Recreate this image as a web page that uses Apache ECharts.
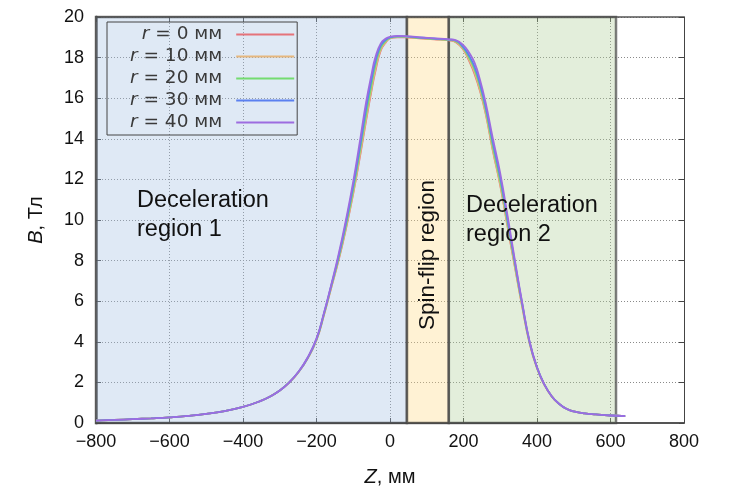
<!DOCTYPE html>
<html lang="ru">
<head>
    <meta charset="UTF-8">
    <title>B(Z)</title>
    <script src="https://cdn.jsdelivr.net/npm/echarts@6/dist/echarts.min.js"></script>
</head>
<body style="margin:0;background:#fff;">
<div id="chart" style="width:731px; height:492px;"></div>
<script type="text/javascript">
// Z, мм
var zPos = [-800,-750,-700,-650,-600,-550,-500,-450,-400,-350,-325,-300,-275,-250,-225,-200,-180,-160,-140,-120,-100,-80,-65,-50,-40,-25,-10,0,
    20,40,80,120,160,180,200,215,230,245,260,280,300,320,340,360,380,400,420,440,460,480,500,530,560,600,640];

// B, Тл для каждого радиуса
var bR0  = [0.12,0.15,0.19,0.23,0.28,0.35,0.45,0.59,0.79,1.1,1.32,1.6,1.98,2.48,3.15,4.08,5.3,6.65,8.0,9.55,11.3,13.3,14.9,16.4,17.3,18.35,18.78,18.94,
    19.0,19.0,18.95,18.9,18.85,18.75,18.38,17.85,17.2,16.35,15.25,13.4,11.7,9.65,7.65,5.7,3.9,2.7,1.88,1.31,0.94,0.7,0.57,0.47,0.42,0.37,0.34];
var bR10 = [0.12,0.15,0.19,0.23,0.28,0.35,0.45,0.59,0.79,1.1,1.32,1.6,1.98,2.48,3.16,4.1,5.32,6.68,8.05,9.6,11.35,13.4,15.0,16.5,17.4,18.4,18.8,18.95,
    19.01,19.01,18.96,18.91,18.86,18.77,18.4,17.9,17.28,16.4,15.3,13.45,11.75,9.7,7.7,5.74,3.93,2.71,1.89,1.31,0.94,0.7,0.57,0.47,0.42,0.37,0.34];
var bR20 = [0.12,0.15,0.19,0.23,0.28,0.35,0.45,0.59,0.79,1.1,1.32,1.6,1.99,2.49,3.17,4.12,5.35,6.72,8.1,9.7,11.5,13.6,15.2,16.7,17.6,18.5,18.85,18.97,
    19.03,19.03,18.97,18.92,18.87,18.8,18.45,18.0,17.42,16.55,15.45,13.6,11.9,9.85,7.8,5.8,3.96,2.73,1.9,1.32,0.95,0.7,0.57,0.47,0.42,0.37,0.34];
var bR30 = [0.12,0.15,0.19,0.23,0.28,0.35,0.45,0.59,0.79,1.1,1.32,1.6,1.99,2.5,3.18,4.14,5.38,6.76,8.2,9.85,11.7,13.8,15.5,16.95,17.8,18.6,18.9,19.0,
    19.05,19.05,18.99,18.94,18.89,18.83,18.5,18.1,17.55,16.7,15.6,13.8,12.1,10.0,7.9,5.85,3.98,2.74,1.9,1.32,0.95,0.7,0.57,0.47,0.42,0.37,0.34];
var bR40 = [0.12,0.15,0.19,0.23,0.28,0.35,0.45,0.59,0.79,1.1,1.32,1.6,1.99,2.5,3.2,4.17,5.4,6.8,8.3,10.0,11.9,14.1,15.8,17.2,18.0,18.7,18.95,19.02,
    19.07,19.06,19.0,18.95,18.9,18.85,18.6,18.25,17.75,16.9,15.8,14.0,12.3,10.2,8.0,5.9,4.0,2.75,1.9,1.32,0.95,0.7,0.57,0.47,0.42,0.37,0.34];

var radii = ['0', '10', '20', '30', '40'];
var curves = [bR0, bR10, bR20, bR30, bR40];
var colors = ['#e5737a', '#e6b77e', '#74dc70', '#5b80f0', '#9d6ce0'];

// границы областей, мм (полупрозрачные, чтобы сетка просвечивала)
var regions = [
    {from: -800, to: 46, color: 'rgba(164,192,226,0.35)'},
    {from: 46, to: 160, color: 'rgba(255,218,132,0.35)'},
    {from: 160, to: 615, color: 'rgba(175,206,152,0.35)'}
];

var xTicks = [-800, 800, 200];
var yTicks = [0, 20, 2];

var chart = echarts.init(document.getElementById('chart'));

var tickFont = 'Liberation Sans Narrow, Arial Narrow, sans-serif';
function gridLine() {
    return {show: true, lineStyle: {color: '#8a8a8a', type: [1, 2], width: 1}};
}

var series = [];
for (var k = 0; k < curves.length; k++) {
    var pts = [];
    for (var i = 0; i < zPos.length; i++) {
        pts.push([zPos[i], curves[k][i]]);
    }
    series.push({
        name: 'r = ' + radii[k] + ' мм',
        type: 'line',
        data: pts,
        showSymbol: false,
        smooth: 0.5,
        lineStyle: {color: colors[k], width: 1.8},
        itemStyle: {color: colors[k]},
        z: 5 + k
    });
}
// области замедления / переворота спина
series.unshift({
    name: 'regions',
    type: 'line',
    data: [],
    markArea: {
        silent: true,
        itemStyle: {borderColor: 'rgba(70,70,70,0.7)', borderWidth: 2.5},
        data: regions.map(function (r) {
            return [{xAxis: r.from, yAxis: yTicks[0], itemStyle: {color: r.color}}, {xAxis: r.to, yAxis: yTicks[1]}];
        })
    },
    z: 1
});

chart.setOption({
    animation: false,
    grid: {left: 96, right: 47, top: 17, bottom: 69, show: false},
    legend: {
        data: series.slice(1).map(function (s) { return s.name; }),
        orient: 'vertical',
        align: 'right',
        left: 107,
        top: 22,
        itemWidth: 58,
        itemHeight: 2,
        itemGap: 3,
        icon: 'rect',
        padding: [3, 3, 3, 23],
        borderColor: '#444',
        borderWidth: 1,
        backgroundColor: 'transparent',
        z: 10,
        textStyle: {fontFamily: 'DejaVu Sans', fontSize: 18.5, lineHeight: 18.5, color: '#3a3a3a', padding: [0, 9, 0, 0],
            rich: {i: {fontFamily: 'DejaVu Sans', fontStyle: 'italic', fontSize: 18.5, lineHeight: 18.5, color: '#3a3a3a'}}},
        formatter: function (name) {
            return '{i|r} ' + name.slice(2);
        }
    },
    xAxis: [{
        type: 'value',
        min: xTicks[0], max: xTicks[1], interval: xTicks[2],
        name: '{i|Z}, мм',
        nameLocation: 'middle',
        nameGap: 44,
        nameTextStyle: {fontFamily: tickFont, fontSize: 20, color: '#111',
            rich: {i: {fontFamily: tickFont, fontStyle: 'italic', fontSize: 20, color: '#111'}}},
        axisLine: {onZero: false, lineStyle: {color: '#555', width: 2}},
        axisTick: {inside: true, length: 5, lineStyle: {color: '#444'}},
        axisLabel: {fontFamily: tickFont, fontSize: 18, color: '#111', margin: 10,
            formatter: function (v) { return String(v).replace('-', '\u2212'); }},
        splitLine: gridLine()
    }, {
        type: 'value', position: 'top',
        min: xTicks[0], max: xTicks[1], interval: xTicks[2],
        axisLine: {show: true, onZero: false, lineStyle: {color: '#555', width: 1.5}},
        axisTick: {inside: true, length: 5, lineStyle: {color: '#444'}},
        axisLabel: {show: false},
        splitLine: {show: false}
    }],
    yAxis: [{
        type: 'value',
        min: yTicks[0], max: yTicks[1], interval: yTicks[2],
        name: '{i|B}, Тл',
        nameLocation: 'middle',
        nameGap: 50,
        nameRotate: 90,
        nameTextStyle: {fontFamily: tickFont, fontSize: 20, color: '#111',
            rich: {i: {fontFamily: tickFont, fontStyle: 'italic', fontSize: 20, color: '#111'}}},
        axisLine: {show: true, onZero: false, lineStyle: {color: '#888', width: 3}},
        axisTick: {inside: true, length: 5, lineStyle: {color: '#444'}},
        axisLabel: {fontFamily: tickFont, fontSize: 18, color: '#111', margin: 12},
        splitLine: gridLine()
    }, {
        type: 'value', position: 'right',
        min: yTicks[0], max: yTicks[1], interval: yTicks[2],
        axisLine: {show: true, onZero: false, lineStyle: {color: '#444', width: 1}},
        axisTick: {inside: true, length: 5, lineStyle: {color: '#444'}},
        axisLabel: {show: false},
        splitLine: {show: false}
    }],
    graphic: [
        {type: 'text', left: 137, top: 186, z: 20,
            style: {text: 'Deceleration\nregion 1', font: '23.5px Liberation Sans, Arial, sans-serif', fill: '#111', lineHeight: 29}},
        {type: 'text', left: 466, top: 191, z: 20,
            style: {text: 'Deceleration\nregion 2', font: '23.5px Liberation Sans, Arial, sans-serif', fill: '#111', lineHeight: 29}},
        {type: 'text', x: 428, y: 255, rotation: Math.PI / 2, z: 20,
            style: {text: 'Spin-flip region', font: '22.5px Liberation Sans, Arial, sans-serif', fill: '#111',
                align: 'center', verticalAlign: 'middle'}}
    ],
    series: series
});
</script>
</body>
</html>
